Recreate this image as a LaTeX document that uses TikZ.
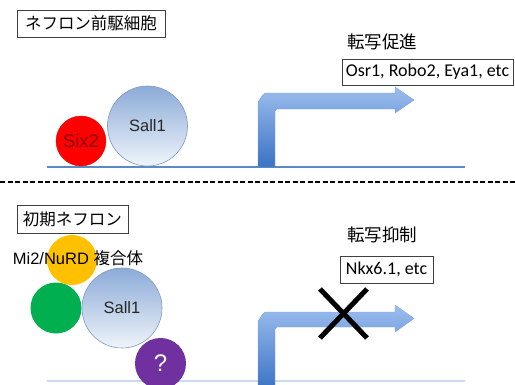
\documentclass[tikz,border=0pt]{standalone}
\usepackage{fontspec}
\setmainfont{Liberation Sans}
\newfontfamily\cjk{Noto Sans CJK JP}
\newfontfamily\calib{Carlito}
\definecolor{sallTop}{HTML}{8CABD8}
\definecolor{sallBot}{HTML}{F0F4FA}
\definecolor{sallEdge}{HTML}{7E9AC2}
\definecolor{arrLight}{HTML}{9CBEEE}
\definecolor{arrDark}{HTML}{3A72C4}
\definecolor{arrEdge}{HTML}{7FA5DA}
\definecolor{baseBlue}{HTML}{5B89C4}
\definecolor{baseLight}{HTML}{C9DBF0}
\definecolor{sixRed}{HTML}{FF0000}
\definecolor{sixText}{HTML}{8A0000}
\definecolor{yel}{HTML}{FFC000}
\definecolor{grn}{HTML}{00B050}
\definecolor{pur}{HTML}{7030A0}
\begin{document}
\begin{tikzpicture}[x=1pt,y=-1pt,
  lbox/.style={draw=black!75, line width=0.7pt, fill=white, inner sep=0pt, anchor=center},
  sallball/.style={circle, inner sep=0pt, draw=sallEdge, line width=0.6pt, top color=sallTop, bottom color=sallBot, minimum size=80pt, font=\fontsize{16.5}{18}\selectfont, text=black!85},
  ball/.style={circle, inner sep=0pt, minimum size=#1},
  arrowfill/.style={top color=arrLight, bottom color=arrDark, draw=arrEdge, line width=0.4pt},
  head/.style={font=\cjk\fontsize{17.5}{19}\selectfont},
  genes/.style={font=\calib\fontsize{18}{20}\selectfont}
]
\useasboundingbox (0,0) rectangle (515,384);

% ---------- top panel ----------
\node[lbox, minimum width=148pt, minimum height=27pt, font=\cjk\fontsize{16.5}{18}\selectfont] (box1) at (91,23.5) {ネフロン前駆細胞};

\draw[baseBlue, line width=1.6pt] (47,167) coordinate (b1s) -- (465,167) coordinate (b1e);

\shade[arrowfill] (258,167) -- (258,101) to[out=-90,in=180] (266,93) -- (395,93) -- (395,87) -- (414,100) -- (395,113) -- (395,109) -- (277,109) to[out=180,in=-90] (275,111) -- (275,167) -- cycle;

\node[ball=50pt, fill=sixRed, draw=sixRed!85!black, line width=0.3pt, font=\fontsize{18.5}{20}\selectfont, text=sixText] (six2) at (81,141) {Six2};
\node[sallball] (sall1a) at (147.5,126) {Sall1};

\node[head] (t1) at (382,42) {転写促進};
\node[lbox, genes, minimum width=171pt, minimum height=26pt] (g1) at (427.5,72) {Osr1, Robo2, Eya1, etc};

% ---------- divider ----------
\draw[black, line width=1.5pt, dash pattern=on 5pt off 2.5pt] (0,182) coordinate (dL) -- (515,182) coordinate (dR);

% ---------- bottom panel ----------
\node[lbox, minimum width=111pt, minimum height=28pt, font=\cjk\fontsize{16.5}{18}\selectfont] (box2) at (72.5,219) {初期ネフロン};

\draw[baseLight, line width=1.2pt] (47,381) coordinate (b2s) -- (465,381) coordinate (b2e);

\shade[arrowfill] (258,390) -- (258,320) to[out=-90,in=180] (266,312) -- (395,312) -- (395,305) -- (414,318.5) -- (395,332) -- (395,327) -- (277,327) to[out=180,in=-90] (275,329) -- (275,390) -- cycle;

\node[ball=50pt, fill=yel] (mi2) at (72,260) {};
\node[font=\fontsize{16.5}{18}\selectfont] (mi2t) at (78,258) {Mi2/NuRD {\cjk 複合体}};
\node[ball=51pt, fill=grn] (green) at (56,308) {};
\node[sallball] (sall1b) at (122,308) {Sall1};
\node[ball=51pt, fill=pur, text=white, font=\fontsize{24}{26}\selectfont] (q) at (160.5,363.5) {?};

\node[head] (t2) at (382,235) {転写抑制};
\node[lbox, genes, minimum width=93pt, minimum height=27pt] (g2) at (386.5,269.5) {Nkx6.1, etc};

\coordinate (xc) at (343.5,313.5);
\draw[black, line width=5pt] (320,289) coordinate (xa) -- (367,338) coordinate (xb);
\draw[black, line width=5pt] (320,338) coordinate (xc1) -- (367,289) coordinate (xd);
\end{tikzpicture}
\end{document}
